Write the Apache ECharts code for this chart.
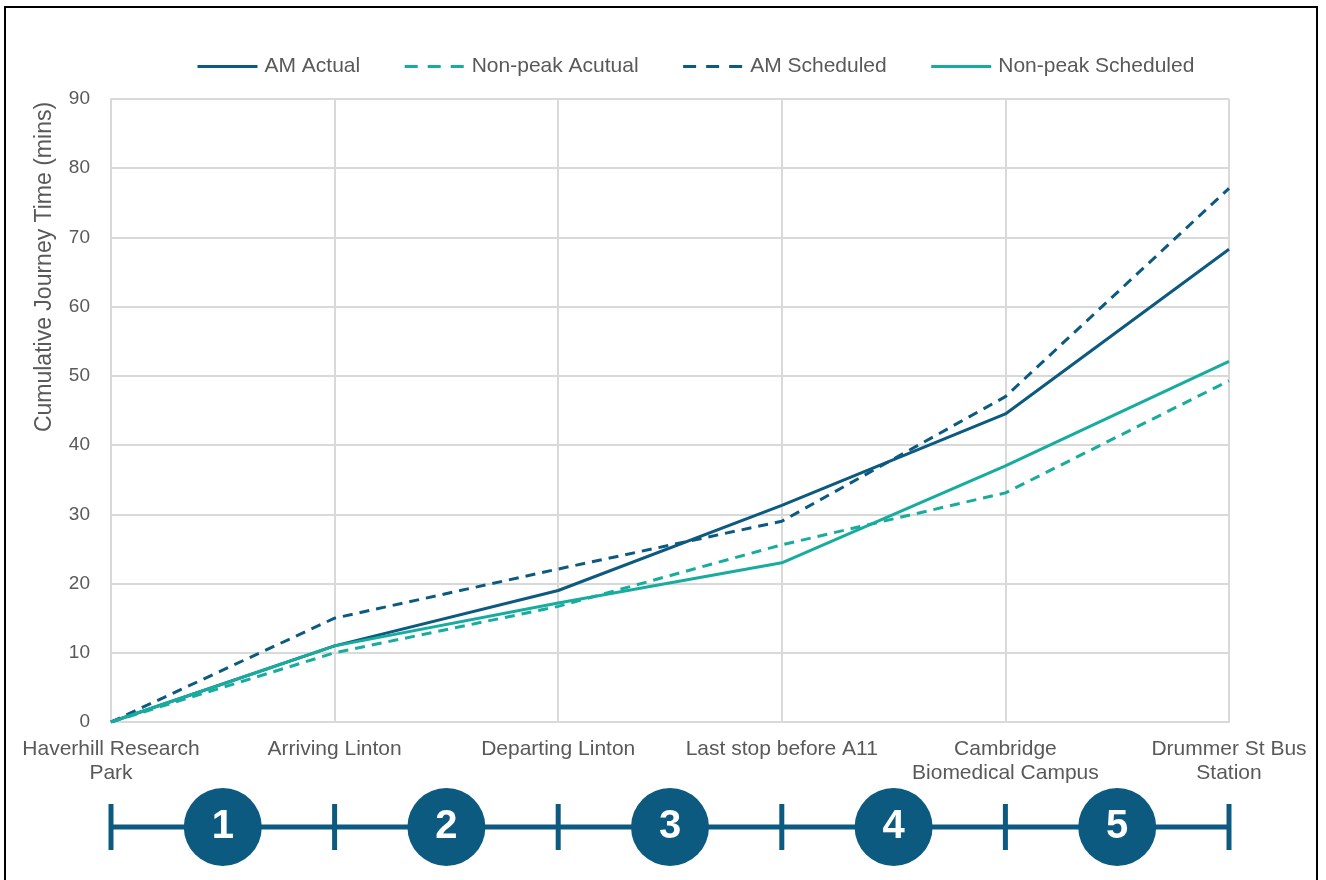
<!DOCTYPE html>
<html>
<head>
<meta charset="utf-8">
<script src="https://cdn.jsdelivr.net/npm/echarts@6/dist/echarts.min.js"></script>
<style>
  html, body { margin: 0; padding: 0; background: #fff; }
  #frame { position: absolute; left: 4px; top: 6px; width: 1314px; height: 880px; border: 2px solid #000; border-bottom: none; box-sizing: border-box; }
  #chart { position: absolute; left: 0; top: 0; width: 1326px; height: 880px; }
</style>
</head>
<body>
<div id="frame"></div>
<div id="chart"></div>
<script>
// Stops along the route
const stops = ['Haverhill Research\nPark', 'Arriving Linton', 'Departing Linton', 'Last stop before A11', 'Cambridge\nBiomedical Campus', 'Drummer St Bus\nStation'];

// Cumulative journey times (minutes)
const amActual = [0, 11, 19, 31.3, 44.5, 68.3];
const nonPeakActual = [0, 10, 16.7, 25.6, 33.1, 49.3];
const amScheduled = [0, 15, 22.1, 29, 47, 77.1];
const nonPeakScheduled = [0, 11, 17.2, 23, 37, 52.1];

// Route sections between consecutive stops
const sections = ['1', '2', '3', '4', '5'];
const yTicks = [0, 10, 20, 30, 40, 50, 60, 70, 80, 90];

const DARK = '#0C5A80';
const TEAL = '#17AC9E';
const TEXT = '#595959';
const GRIDC = '#D9D9D9';
const FONT = 'Liberation Sans, Arial, sans-serif';

const chart = echarts.init(document.getElementById('chart'), null, { renderer: 'canvas' });

function lineSeries(name, data, color, dashed) {
  return {
    name, type: 'line', data,
    xAxisIndex: 0, yAxisIndex: 0,
    symbol: 'none', smooth: false,
    lineStyle: { color, width: 3, type: dashed ? [10, 7] : 'solid' },
    itemStyle: { color },
    z: 3
  };
}

function legendItem(name, color, dashed) {
  return {
    name,
    itemStyle: { opacity: 0 },
    lineStyle: { color, width: 3, type: dashed ? [13, 10] : 'solid', dashOffset: 0 }
  };
}

const sectionPos = sections.map((s, i) => [i + 0.5, 0, s]);
const stopPos = stops.map((s, i) => [i, 0]);

chart.setOption({
  animation: false,
  textStyle: { fontFamily: FONT },
  legend: {
    top: 51, left: 191,
    itemWidth: 60, itemHeight: 3, itemGap: 43,
    textStyle: { color: TEXT, fontSize: 21, fontFamily: FONT, padding: [0, 0, 0, 2] },
    data: [
      legendItem('AM Actual', DARK, false),
      legendItem('Non-peak Acutual', TEAL, true),
      legendItem('AM Scheduled', DARK, true),
      legendItem('Non-peak Scheduled', TEAL, false)
    ]
  },
  grid: [
    { left: 111, right: 97, top: 99, bottom: 158 },
    { left: 111, right: 97, top: 787, height: 80 }
  ],
  graphic: [{
    type: 'text', x: 45, y: 267, rotation: Math.PI / 2,
    style: {
      text: 'Cumulative Journey Time (mins)', fill: TEXT, font: '23px ' + FONT,
      align: 'center', verticalAlign: 'middle'
    }
  }],
  xAxis: [
    {
      type: 'category', gridIndex: 0, data: stops, boundaryGap: false,
      axisLine: { lineStyle: { color: GRIDC, width: 2 } },
      axisTick: { show: false },
      splitLine: { show: true, lineStyle: { color: GRIDC, width: 2 } },
      axisLabel: { color: TEXT, fontSize: 21, lineHeight: 24, margin: 15, interval: 0, fontFamily: FONT }
    },
    {
      type: 'value', gridIndex: 1, min: 0, max: 5, interval: 1,
      axisLine: { show: false }, axisTick: { show: false },
      axisLabel: { show: false }, splitLine: { show: false }
    }
  ],
  yAxis: [
    {
      type: 'value', gridIndex: 0, min: yTicks[0], max: yTicks[yTicks.length - 1], interval: 10,
      axisLine: { show: true, lineStyle: { color: GRIDC, width: 2 } },
      axisTick: { show: false },
      splitLine: { lineStyle: { color: GRIDC, width: 2 } },
      axisLabel: { color: TEXT, fontSize: 19, margin: 21, fontFamily: FONT }
    },
    {
      type: 'value', gridIndex: 1, min: -1, max: 1, show: false
    }
  ],
  series: [
    lineSeries('AM Actual', amActual, DARK, false),
    lineSeries('Non-peak Acutual', nonPeakActual, TEAL, true),
    lineSeries('AM Scheduled', amScheduled, DARK, true),
    lineSeries('Non-peak Scheduled', nonPeakScheduled, TEAL, false),
    // route bar below the chart
    {
      type: 'line', xAxisIndex: 1, yAxisIndex: 1, data: stopPos,
      symbol: 'rect', symbolSize: [5, 46], showSymbol: true,
      lineStyle: { color: DARK, width: 5 }, itemStyle: { color: DARK },
      silent: true, z: 1, legendHoverLink: false
    },
    {
      type: 'scatter', xAxisIndex: 1, yAxisIndex: 1, data: sectionPos,
      symbol: 'circle', symbolSize: [78, 78],
      itemStyle: { color: DARK, opacity: 1 },
      label: {
        show: true, position: 'inside', color: '#fff', fontSize: 40, fontWeight: 'bold',
        fontFamily: FONT, formatter: p => p.data[2]
      },
      silent: true, z: 2
    }
  ]
});
</script>
</body>
</html>
